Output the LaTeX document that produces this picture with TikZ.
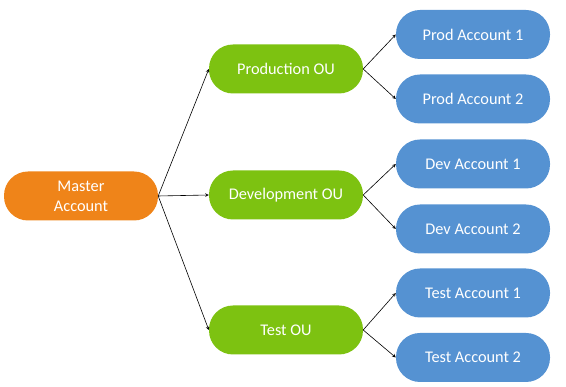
\documentclass[tikz,border=0pt]{standalone}
\usepackage{fontspec}
\setmainfont{Carlito}
\usetikzlibrary{arrows}

\definecolor{masterorange}{HTML}{EF8419}
\definecolor{ougreen}{HTML}{7DC211}
\definecolor{acctblue}{HTML}{5592D2}

\tikzset{
  pill/.style={rounded corners=24pt, minimum width=154pt, minimum height=49pt,
    text=white, align=center, inner sep=2pt,
    font=\fontsize{16.3}{20}\selectfont},
  master/.style={pill, fill=masterorange},
  ou/.style={pill, fill=ougreen},
  acct/.style={pill, fill=acctblue},
  link/.style={->, >=stealth, line width=0.6pt, black}
}

\begin{document}
\begin{tikzpicture}[x=1pt,y=1pt]

\useasboundingbox (0,0) rectangle (566,387);

% root
\node[master] (master) at (81,191) {Master\\Account};

% organisational units
\node[ou] (prodou) at (286,318) {Production OU};
\node[ou] (devou)  at (286,192) {Development OU};
\node[ou] (testou) at (286,57)  {Test OU};

% accounts
\node[acct] (prod1) at (473,352.5) {Prod Account 1};
\node[acct] (prod2) at (473,288)   {Prod Account 2};
\node[acct] (dev1)  at (473,223)   {Dev Account 1};
\node[acct] (dev2)  at (473,158)   {Dev Account 2};
\node[acct] (test1) at (473,94)    {Test Account 1};
\node[acct] (test2) at (473,29.5)  {Test Account 2};

\draw[link] (master.east) -- (prodou.west);
\draw[link] (master.east) -- (devou.west);
\draw[link] (master.east) -- (testou.west);

\draw[link] (prodou.east) -- (prod1.west);
\draw[link] (prodou.east) -- (prod2.west);
\draw[link] (devou.east) -- (dev1.west);
\draw[link] (devou.east) -- (dev2.west);
\draw[link] (testou.east) -- (test1.west);
\draw[link] (testou.east) -- (test2.west);

\end{tikzpicture}
\end{document}
